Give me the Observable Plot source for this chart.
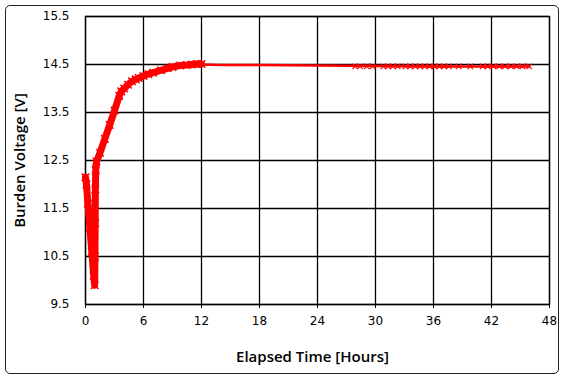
<!DOCTYPE html>
<html>
<head>
<meta charset="utf-8">
<script src="https://cdn.jsdelivr.net/npm/d3@7"></script>
<script src="https://cdn.jsdelivr.net/npm/@observablehq/plot@0.6"></script>
<style>
  html, body { margin: 0; padding: 0; background: #fff; }
  #wrap { position: relative; width: 566px; height: 381px; overflow: hidden; }
  #border { position: absolute; left: 5px; top: 5px; width: 552px; height: 367px; border: 1px solid #222; border-radius: 5px; }
  #chart { position: absolute; left: 0; top: 0; }
</style>
</head>
<body>
<div id="wrap"><div id="border"></div><div id="chart"></div></div>
<script>
// Dip and recovery phase (hours, volts)
const riseHours = [0, 0.1, 0.25, 0.45, 0.65, 0.85, 0.95, 0.98, 1.0, 1.02, 1.06, 1.14, 1.5, 2.0, 2.5, 3.0, 3.5, 3.7, 4.0, 4.4, 4.8, 5.2, 5.5, 6.0, 6.5, 7.0, 7.8, 8.5, 9.0, 9.8, 10.5, 11.0, 11.5, 12.0];
const riseVolts = [12.15, 12.0, 11.6, 11.1, 10.6, 10.1, 9.9, 10.5, 11.2, 11.9, 12.3, 12.48, 12.66, 12.95, 13.24, 13.54, 13.85, 13.94, 14.0, 14.08, 14.15, 14.19, 14.22, 14.26, 14.3, 14.33, 14.38, 14.42, 14.45, 14.48, 14.49, 14.5, 14.51, 14.51];
// Steady phase
const flatHours = [12.0, 14.0, 18.0, 24.0, 30.0, 36.0, 42.0, 45.9];
const flatVolts = [14.5, 14.49, 14.49, 14.48, 14.47, 14.46, 14.46, 14.46];
// Visible sample markers on the steady phase
const markHours = [27.9, 28.4, 29.1, 29.7, 30.8, 31.3, 31.8, 32.3, 33.1, 33.6, 34.1, 34.6, 35.1, 35.6, 36.1, 36.6, 37.1, 37.6, 38.6, 39.8, 41.1, 41.6, 42.2, 42.8, 43.4, 44.0, 44.6, 45.2, 45.9];
const markVolts = [14.46, 14.46, 14.46, 14.46, 14.46, 14.46, 14.46, 14.46, 14.46, 14.46, 14.46, 14.46, 14.46, 14.46, 14.46, 14.46, 14.46, 14.46, 14.46, 14.46, 14.46, 14.46, 14.46, 14.46, 14.46, 14.46, 14.46, 14.46, 14.46];

const xTicks = [0, 6, 12, 18, 24, 30, 36, 42, 48];
const yTicks = [9.5, 10.5, 11.5, 12.5, 13.5, 14.5, 15.5];
const xLabel = "Elapsed Time [Hours]";
const yLabel = "Burden Voltage [V]";

const rise = riseHours.map((t, i) => ({t, v: riseVolts[i]}));
const flat = flatHours.map((t, i) => ({t, v: flatVolts[i]}));
const marks = markHours.map((t, i) => ({t, v: markVolts[i]}));

const red = "#ff0000";
const font = "DejaVu Sans, Verdana, sans-serif";
const labelFont = "'Open Sans', 'DejaVu Sans', sans-serif";

const chart = Plot.plot({
  width: 566,
  height: 381,
  marginLeft: 85,
  marginRight: 17,
  marginTop: 16,
  marginBottom: 77,
  style: {fontFamily: font, fontSize: "12px", color: "#000", background: "transparent"},
  x: {domain: [0, 48]},
  y: {domain: [9.5, 15.5]},
  marks: [
    Plot.gridX(xTicks, {stroke: "#000", strokeOpacity: 1, strokeWidth: 1.3}),
    Plot.gridY(yTicks, {stroke: "#000", strokeOpacity: 1, strokeWidth: 1.3}),
    Plot.frame({stroke: "#000", strokeWidth: 1.3}),
    Plot.axisX({ticks: xTicks, tickSize: 4, tickPadding: 8, fontSize: 12, label: null, tickFormat: d => String(d)}),
    Plot.axisY({ticks: yTicks, tickSize: 0, tickPadding: 16, fontSize: 12, label: null, tickFormat: d => d.toFixed(1)}),
    Plot.text([xLabel], {text: d => d, frameAnchor: "bottom", textAnchor: "middle", lineAnchor: "middle", dx: -5, dy: 53, fontSize: 15, fontWeight: 600, fontFamily: labelFont, fill: "#000"}),
    Plot.text([yLabel], {text: d => d, frameAnchor: "left", textAnchor: "middle", lineAnchor: "middle", rotate: -90, dx: -65, fontSize: 15, fontWeight: 600, fontFamily: labelFont, fill: "#000"}),
    Plot.line(flat, {x: "t", y: "v", stroke: red, strokeWidth: 2.5}),
    Plot.dot(marks, {x: "t", y: "v", symbol: "times", r: 2.6, stroke: red, strokeWidth: 1.2}),
    Plot.line(rise, {x: "t", y: "v", stroke: red, strokeWidth: 7, strokeLinejoin: "round"}),
    Plot.dot(rise, {x: "t", y: "v", symbol: "times", r: 3.5, stroke: red, strokeWidth: 1.5})
  ]
});
document.getElementById("chart").appendChild(chart);
</script>
</body>
</html>
